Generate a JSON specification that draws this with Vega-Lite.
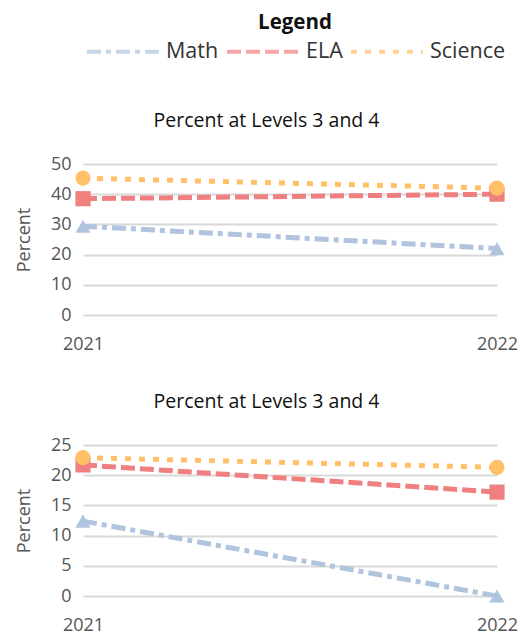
{
  "$schema": "https://vega.github.io/schema/vega-lite/v6.json",
  "padding": {"left": 15, "top": 13, "right": 0, "bottom": 0},
  "background": "white",
  "spacing": 38,
  "config": {
    "font": "Open Sans",
    "view": {"stroke": null},
    "axis": {
      "labelFont": "Open Sans", "labelFontSize": 18, "labelColor": "#555555",
      "titleFont": "Open Sans", "titleFontSize": 18, "titleFontWeight": "normal", "titleColor": "#555555",
      "domain": false, "ticks": false, "gridColor": "#d9d9d9", "gridWidth": 2
    },
    "title": {"font": "Open Sans", "fontSize": 19.5, "fontWeight": "normal", "color": "#111111", "anchor": "middle", "frame": "bounds", "offset": 24}
  },
  "datasets": {
    "p1": [
      {"Year": "2021", "Subject": "Math", "Percent": 29.4},
      {"Year": "2022", "Subject": "Math", "Percent": 22.0},
      {"Year": "2021", "Subject": "ELA", "Percent": 38.5},
      {"Year": "2022", "Subject": "ELA", "Percent": 40.0},
      {"Year": "2021", "Subject": "Science", "Percent": 45.3},
      {"Year": "2022", "Subject": "Science", "Percent": 42.0}
    ],
    "p2": [
      {"Year": "2021", "Subject": "Math", "Percent": 12.4},
      {"Year": "2022", "Subject": "Math", "Percent": 0},
      {"Year": "2021", "Subject": "ELA", "Percent": 21.7},
      {"Year": "2022", "Subject": "ELA", "Percent": 17.2},
      {"Year": "2021", "Subject": "Science", "Percent": 22.9},
      {"Year": "2022", "Subject": "Science", "Percent": 21.3}
    ]
  },
  "resolve": {"scale": {"x": "independent", "y": "independent"}},
  "vconcat": [
    {
      "width": 414, "height": 151,
      "title": "Percent at Levels 3 and 4",
      "data": {"name": "p1"},
      "encoding": {
        "x": {"field": "Year", "type": "ordinal", "scale": {"padding": 0}, "axis": {"title": null, "labelAngle": 0, "labelPadding": 20, "grid": false, "labelFlush": false}},
        "y": {"field": "Percent", "type": "quantitative", "scale": {"domain": [0, 50]}, "axis": {"values": [0, 10, 20, 30, 40, 50], "title": "Percent", "labelPadding": 12, "titlePadding": 17, "grid": true}}
      },
      "layer": [
        {
          "mark": {"type": "line", "strokeWidth": 5, "strokeCap": "butt"},
          "encoding": {
            "color": {"field": "Subject", "type": "nominal", "scale": {"domain": ["Math", "ELA", "Science"], "range": ["#b0c4de", "#f08080", "#ffc067"]},
              "legend": {"title": "Legend", "orient": "none", "legendX": 2, "legendY": -151, "direction": "horizontal", "columns": 3, "symbolType": "stroke", "symbolSize": 5184, "symbolStrokeWidth": 4, "labelFont": "Open Sans", "labelFontSize": 21.5, "labelColor": "#333333", "labelOffset": 5, "columnPadding": 0, "titleFont": "Open Sans", "titleFontSize": 20.5, "titleFontWeight": "bold", "titleColor": "#111111", "titleAnchor": "middle", "titlePadding": -20}},
            "strokeDash": {"field": "Subject", "type": "nominal", "scale": {"domain": ["Math", "ELA", "Science"], "range": [[14, 5, 5, 5], [14, 5], [6, 8]]},
              "legend": {"title": "Legend", "orient": "none", "legendX": 2, "legendY": -151, "direction": "horizontal", "columns": 3, "symbolType": "stroke", "symbolSize": 5184, "symbolStrokeWidth": 4, "labelFont": "Open Sans", "labelFontSize": 21.5, "labelColor": "#333333", "labelOffset": 5, "columnPadding": 0, "titleFont": "Open Sans", "titleFontSize": 20.5, "titleFontWeight": "bold", "titleColor": "#111111", "titleAnchor": "middle", "titlePadding": -20}}
          }
        },
        {
          "mark": {"type": "point", "filled": true, "size": 230},
          "encoding": {
            "color": {"field": "Subject", "type": "nominal", "scale": {"domain": ["Math", "ELA", "Science"], "range": ["#b0c4de", "#f08080", "#ffc067"]},
              "legend": {"title": "Legend", "orient": "none", "legendX": 2, "legendY": -151, "direction": "horizontal", "columns": 3, "symbolType": "stroke", "symbolSize": 5184, "symbolStrokeWidth": 4, "labelFont": "Open Sans", "labelFontSize": 21.5, "labelColor": "#333333", "labelOffset": 5, "columnPadding": 0, "titleFont": "Open Sans", "titleFontSize": 20.5, "titleFontWeight": "bold", "titleColor": "#111111", "titleAnchor": "middle", "titlePadding": -20}},
            "shape": {"field": "Subject", "type": "nominal", "scale": {"range": ["square", "triangle-up", "circle"]}, "legend": null},
            "opacity": {"field": "Subject", "type": "nominal", "scale": {"range": [1, 1, 1]},
              "legend": {"title": "Legend", "orient": "none", "legendX": 2, "legendY": -151, "direction": "horizontal", "columns": 3, "values": ["Math", "ELA", "Science"], "symbolSize": 5184, "symbolStrokeWidth": 4, "labelFont": "Open Sans", "labelFontSize": 21.5, "labelOpacity": 0, "labelOffset": 5, "columnPadding": 0, "titleFont": "Open Sans", "titleFontSize": 20.5, "titleFontWeight": "bold", "titleOpacity": 0, "titleAnchor": "middle", "titlePadding": -20,
                "encode": {"symbols": {
                  "fill": {"value": {"expr": "datum.value === 'Math' ? '#b0c4de' : (datum.value === 'ELA' ? '#f08080' : '#ffc067')"}},
                  "stroke": {"value": "transparent"},
                  "shape": {"value": {"expr": "datum.value === 'Math' ? 'M0,-0.263L0.276,0.21L-0.276,0.21Z' : (datum.value === 'ELA' ? 'M-0.263,-0.263H0.263V0.263H-0.263Z' : 'M-0.237,0A0.237,0.237 0 1,0 0.237,0A0.237,0.237 0 1,0 -0.237,0Z')"}}
                }}}}
          }
        }
      ]
    },
    {
      "width": 414, "height": 151,
      "title": "Percent at Levels 3 and 4",
      "data": {"name": "p2"},
      "encoding": {
        "x": {"field": "Year", "type": "ordinal", "scale": {"padding": 0}, "axis": {"title": null, "labelAngle": 0, "labelPadding": 20, "grid": false, "labelFlush": false}},
        "y": {"field": "Percent", "type": "quantitative", "scale": {"domain": [0, 25]}, "axis": {"values": [0, 5, 10, 15, 20, 25], "title": "Percent", "labelPadding": 12, "titlePadding": 17, "grid": true}}
      },
      "layer": [
        {
          "mark": {"type": "line", "strokeWidth": 5, "strokeCap": "butt"},
          "encoding": {
            "color": {"field": "Subject", "type": "nominal", "scale": {"domain": ["Math", "ELA", "Science"], "range": ["#b0c4de", "#f08080", "#ffc067"]}},
            "strokeDash": {"field": "Subject", "type": "nominal", "scale": {"domain": ["Math", "ELA", "Science"], "range": [[14, 5, 5, 5], [14, 5], [6, 8]]}}
          }
        },
        {
          "mark": {"type": "point", "filled": true, "size": 230},
          "encoding": {
            "color": {"field": "Subject", "type": "nominal", "scale": {"domain": ["Math", "ELA", "Science"], "range": ["#b0c4de", "#f08080", "#ffc067"]}},
            "shape": {"field": "Subject", "type": "nominal", "scale": {"range": ["square", "triangle-up", "circle"]}, "legend": null},
            "opacity": {"field": "Subject", "type": "nominal", "scale": {"range": [1, 1, 1]}}
          }
        }
      ]
    }
  ]
}
